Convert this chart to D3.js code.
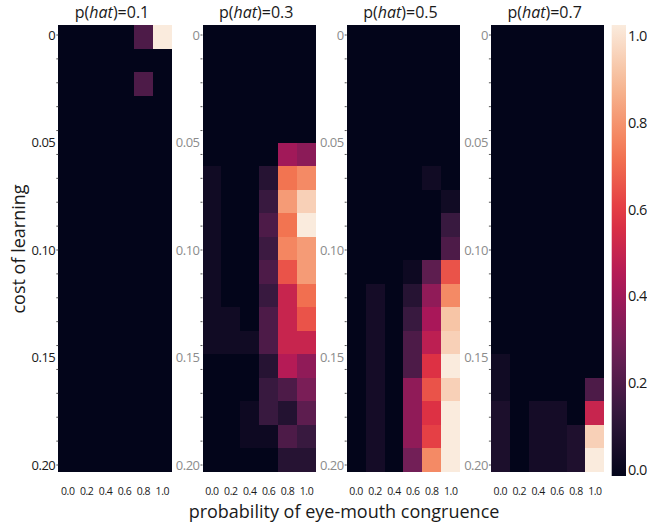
<!DOCTYPE html>
<html>
<head>
<meta charset="utf-8">
<title>learning heatmaps</title>
<script src="https://cdn.jsdelivr.net/npm/d3@7"></script>
<style>
  body { margin: 0; background: #fff; }
  text { font-family: "Open Sans", sans-serif; }
</style>
</head>
<body>
<div id="chart"></div>
<script>
// data: one array per panel, 19 rows (cost) x 6 columns (congruence)
var hats = ["0.1", "0.3", "0.5", "0.7"];
var congruence = ["0.0", "0.2", "0.4", "0.6", "0.8", "1.0"];
var yTickLabels = ["0", "0.05", "0.10", "0.15", "0.20"];
var cbTicks = [0, 0.2, 0.4, 0.6, 0.8, 1.0];

var p01 = [
  [0, 0, 0, 0, 0.2, 1.0],
  [0, 0, 0, 0, 0, 0],
  [0, 0, 0, 0, 0.2, 0],
  [0, 0, 0, 0, 0, 0],
  [0, 0, 0, 0, 0, 0],
  [0, 0, 0, 0, 0, 0],
  [0, 0, 0, 0, 0, 0],
  [0, 0, 0, 0, 0, 0],
  [0, 0, 0, 0, 0, 0],
  [0, 0, 0, 0, 0, 0],
  [0, 0, 0, 0, 0, 0],
  [0, 0, 0, 0, 0, 0],
  [0, 0, 0, 0, 0, 0],
  [0, 0, 0, 0, 0, 0],
  [0, 0, 0, 0, 0, 0],
  [0, 0, 0, 0, 0, 0],
  [0, 0, 0, 0, 0, 0],
  [0, 0, 0, 0, 0, 0],
  [0, 0, 0, 0, 0, 0]
];
var p03 = [
  [0, 0, 0, 0, 0, 0],
  [0, 0, 0, 0, 0, 0],
  [0, 0, 0, 0, 0, 0],
  [0, 0, 0, 0, 0, 0],
  [0, 0, 0, 0, 0, 0],
  [0, 0, 0, 0, 0.4, 0.35],
  [0.04, 0, 0, 0.1, 0.71, 0.76],
  [0.04, 0, 0, 0.15, 0.8, 0.93],
  [0.04, 0, 0, 0.2, 0.71, 1.0],
  [0.04, 0, 0, 0.16, 0.75, 0.8],
  [0.04, 0, 0, 0.2, 0.64, 0.8],
  [0.04, 0, 0, 0.15, 0.5, 0.7],
  [0.04, 0.04, 0, 0.2, 0.5, 0.64],
  [0.04, 0.04, 0.04, 0.2, 0.5, 0.5],
  [0, 0, 0, 0.1, 0.45, 0.36],
  [0, 0, 0, 0.15, 0.2, 0.31],
  [0, 0, 0.03, 0.15, 0.09, 0.24],
  [0, 0, 0.03, 0.03, 0.2, 0.15],
  [0, 0, 0, 0, 0.1, 0.1]
];
var p05 = [
  [0, 0, 0, 0, 0, 0],
  [0, 0, 0, 0, 0, 0],
  [0, 0, 0, 0, 0, 0],
  [0, 0, 0, 0, 0, 0],
  [0, 0, 0, 0, 0, 0],
  [0, 0, 0, 0, 0, 0],
  [0, 0, 0, 0, 0.04, 0],
  [0, 0, 0, 0, 0, 0.04],
  [0, 0, 0, 0, 0, 0.15],
  [0, 0, 0, 0, 0, 0.2],
  [0, 0, 0, 0.03, 0.24, 0.64],
  [0, 0.05, 0, 0.1, 0.36, 0.76],
  [0, 0.05, 0, 0.15, 0.42, 0.9],
  [0, 0.05, 0, 0.2, 0.47, 0.93],
  [0, 0.05, 0, 0.2, 0.56, 1.0],
  [0, 0.05, 0, 0.36, 0.64, 0.93],
  [0, 0.05, 0, 0.36, 0.56, 1.0],
  [0, 0.05, 0, 0.36, 0.6, 1.0],
  [0, 0.05, 0, 0.29, 0.76, 1.0]
];
var p07 = [
  [0, 0, 0, 0, 0, 0],
  [0, 0, 0, 0, 0, 0],
  [0, 0, 0, 0, 0, 0],
  [0, 0, 0, 0, 0, 0],
  [0, 0, 0, 0, 0, 0],
  [0, 0, 0, 0, 0, 0],
  [0, 0, 0, 0, 0, 0],
  [0, 0, 0, 0, 0, 0],
  [0, 0, 0, 0, 0, 0],
  [0, 0, 0, 0, 0, 0],
  [0, 0, 0, 0, 0, 0],
  [0, 0, 0, 0, 0, 0],
  [0, 0, 0, 0, 0, 0],
  [0, 0, 0, 0, 0, 0],
  [0.04, 0, 0, 0, 0, 0],
  [0.04, 0, 0, 0, 0, 0.2],
  [0.07, 0, 0.05, 0.05, 0, 0.5],
  [0.07, 0, 0.05, 0.05, 0.08, 0.93],
  [0.07, 0, 0.05, 0.05, 0.08, 1.0]
];
var panels = [p01, p03, p05, p07];

// seaborn "rocket" colormap stops
var rocket = ["#03051a", "#35193e", "#701f57", "#ad1759", "#e13342", "#f37651", "#f6b48f", "#faebdd"];

drawChart();

function drawChart()
{
    var width = 647, height = 525;
    var panelTop = 25, panelH = 446.5, panelW = 113.5, panelStep = 144.2, left0 = 58.3;

    var svg = d3.select("#chart").append("svg")
        .attr("width", width)
        .attr("height", height);

    var color = d3.scaleLinear()
        .domain(rocket.map(function(c, i) { return i / (rocket.length - 1); }))
        .range(rocket)
        .interpolate(d3.interpolateRgb)
        .clamp(true);

    var x = d3.scaleBand().domain(congruence).range([0, panelW]);
    var y = d3.scaleBand().domain(d3.range(p01.length)).range([0, panelH]);
    // tick positions for the cost axis
    var yTick = d3.scaleLinear().domain([0, 0.2]).range([10, 440]);
    var minor = d3.range(19).map(function(i) { return i * 0.2 / 18; });

    panels.forEach(function(data, p) {
        var g = svg.append("g")
            .attr("transform", "translate(" + (left0 + p * panelStep) + "," + panelTop + ")");

        // flatten so every cell carries its own row/column
        var cells = [];
        data.forEach(function(r, i) {
            r.forEach(function(v, j) { cells.push({ row: i, col: congruence[j], value: v }); });
        });

        var cellG = g.append("g").attr("shape-rendering", "crispEdges");
        cellG.append("rect")
            .attr("width", panelW).attr("height", panelH)
            .attr("fill", color(0));
        cellG.selectAll(".cell")
            .data(cells)
          .enter().append("rect")
            .attr("class", "cell")
            .attr("x", function(d) { return x(d.col); })
            .attr("y", function(d) { return y(d.row); })
            .attr("width", function(d) { return d.col === "1.0" ? x.bandwidth() : x.bandwidth() + 0.6; })
            .attr("height", function(d) { return d.row === data.length - 1 ? y.bandwidth() : y.bandwidth() + 0.6; })
            .attr("fill", function(d) { return color(d.value); });

        // y ticks: minor marks on every row, labels every 0.05
        g.selectAll(".ytick")
            .data(minor)
          .enter().append("line")
            .attr("class", "ytick")
            .attr("x1", -2).attr("x2", 0)
            .attr("y1", function(d) { return yTick(d); })
            .attr("y2", function(d) { return yTick(d); })
            .attr("stroke", "#555")
            .attr("stroke-width", 1);

        g.selectAll(".ylab")
            .data(yTickLabels)
          .enter().append("text")
            .attr("class", "ylab")
            .attr("x", -3)
            .attr("y", function(d) { return yTick(+d); })
            .attr("dy", "0.35em")
            .attr("text-anchor", "end")
            .style("font-size", "13px")
            .style("letter-spacing", "-0.5px")
            .attr("fill", p === 0 ? "#1a1a1a" : "#8c8c8c")
            .text(function(d) { return d; });

        g.selectAll(".xlab")
            .data(congruence)
          .enter().append("text")
            .attr("class", "xlab")
            .attr("x", function(d) { return x(d) + x.bandwidth() / 2; })
            .attr("y", panelH + 23)
            .attr("text-anchor", "middle")
            .style("font-size", "10.5px")
            .style("letter-spacing", "-0.4px")
            .attr("fill", "#1a1a1a")
            .text(function(d) { return d; });

        var title = g.append("text")
            .attr("x", panelW / 2 - 3)
            .attr("y", -7)
            .attr("text-anchor", "middle")
            .style("font-size", "16px")
            .attr("fill", "#1a1a1a");
        title.append("tspan").text("p(");
        title.append("tspan").style("font-style", "italic").text("hat");
        title.append("tspan").text(")=" + hats[p]);
    });

    // colour bar
    var cbX = 611.7, cbW = 14.3, cbTop = 25, cbBottom = 476;
    var grad = svg.append("defs").append("linearGradient")
        .attr("id", "rocketGrad")
        .attr("x1", 0).attr("y1", 1).attr("x2", 0).attr("y2", 0);
    grad.selectAll("stop")
        .data(d3.range(0, 1.0001, 0.05))
      .enter().append("stop")
        .attr("offset", function(d) { return d; })
        .attr("stop-color", function(d) { return color(d); });

    svg.append("rect")
        .attr("x", cbX).attr("y", cbTop)
        .attr("width", cbW).attr("height", cbBottom - cbTop)
        .attr("fill", "url(#rocketGrad)");

    var cbScale = d3.scaleLinear().domain([0, 1]).range([470, 36]);
    svg.selectAll(".cblab")
        .data(cbTicks)
      .enter().append("text")
        .attr("class", "cblab")
        .attr("x", cbX + cbW + 2)
        .attr("y", function(d) { return cbScale(d); })
        .attr("dy", "0.35em")
        .style("font-size", "14.5px")
        .style("letter-spacing", "-0.6px")
        .attr("fill", "#1a1a1a")
        .text(function(d) { return d3.format(".1f")(d); });

    // axis titles
    svg.append("text")
        .attr("x", 344)
        .attr("y", 518)
        .attr("text-anchor", "middle")
        .style("font-size", "18px")
        .attr("fill", "#1a1a1a")
        .text("probability of eye-mouth congruence");

    svg.append("text")
        .attr("transform", "translate(25,249) rotate(-90)")
        .attr("text-anchor", "middle")
        .style("font-size", "18px")
        .attr("fill", "#1a1a1a")
        .text("cost of learning");
}
</script>
</body>
</html>
